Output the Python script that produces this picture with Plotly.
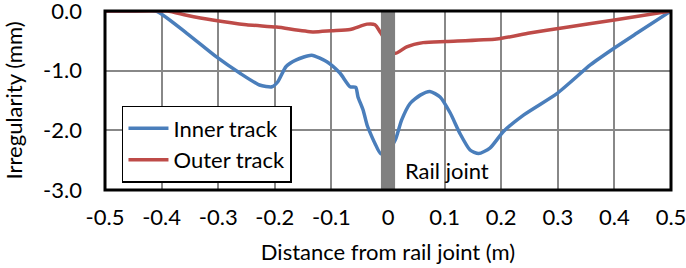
import plotly.graph_objects as go

inner_x = [-0.5, -0.45, -0.41, -0.356, -0.303, -0.262, -0.227, -0.205, -0.195, -0.18, -0.162, -0.135,
           -0.108, -0.085, -0.067, -0.057, -0.053, -0.044, -0.037, -0.032, -0.023, -0.013, 0.0,
           0.013, 0.024, 0.039, 0.057, 0.074, 0.092, 0.11, 0.127, 0.145, 0.16, 0.18, 0.204,
           0.24, 0.299, 0.358, 0.40, 0.44, 0.5]
inner_y = [0.0, 0.0, 0.0, -0.37, -0.77, -1.04, -1.24, -1.27, -1.19, -0.93, -0.82, -0.74,
           -0.85, -1.04, -1.27, -1.28, -1.44, -1.66, -1.91, -2.03, -2.22, -2.39, -2.35,
           -2.16, -1.83, -1.55, -1.41, -1.35, -1.44, -1.71, -2.05, -2.33, -2.39, -2.30, -2.02,
           -1.74, -1.38, -0.90, -0.62, -0.37, 0.0]

outer_x = [-0.5, -0.45, -0.39, -0.356, -0.31, -0.25, -0.197, -0.133, -0.1, -0.067, -0.037,
           -0.023, -0.014, 0.0, 0.013, 0.033, 0.062, 0.103, 0.192, 0.25, 0.31, 0.40, 0.5]
outer_y = [0.0, 0.0, 0.0, -0.07, -0.15, -0.23, -0.27, -0.35, -0.33, -0.31, -0.22,
           -0.23, -0.35, -0.55, -0.71, -0.60, -0.53, -0.51, -0.47, -0.37, -0.28, -0.15, 0.0]

x_ticks = [-0.5, -0.4, -0.3, -0.2, -0.1, 0, 0.1, 0.2, 0.3, 0.4, 0.5]
x_labels = ["-0.5", "-0.4", "-0.3", "-0.2", "-0.1", "0", "0.1", "0.2", "0.3", "0.4", "0.5"]
y_ticks = [0, -1, -2, -3]
y_labels = ["0.0", "-1.0", "-2.0", "-3.0"]

FONT = "Lato, 'Open Sans', sans-serif"
FS = 22

fig = go.Figure()
fig.add_trace(go.Scatter(x=inner_x, y=inner_y, mode="lines", name="Inner track",
                         line=dict(color="#4A7EBB", width=3.5, shape="spline", smoothing=0.6)))
fig.add_trace(go.Scatter(x=outer_x, y=outer_y, mode="lines", name="Outer track",
                         line=dict(color="#BE4B48", width=3.5, shape="spline", smoothing=0.6)))

# rail joint bar
fig.add_shape(type="rect", xref="x", yref="y", x0=-0.0125, x1=0.0125, y0=-3, y1=0,
              fillcolor="#808080", line=dict(width=0), layer="above")
# plot border
fig.add_shape(type="rect", xref="paper", yref="paper", x0=0, x1=1, y0=0, y1=1,
              line=dict(color="black", width=3), layer="above")

fig.add_annotation(x=0.027, y=-2.67, xref="x", yref="y", text="Rail joint", showarrow=False,
                   xanchor="left", yanchor="middle", font=dict(family=FONT, size=FS, color="black"))

fig.update_layout(
    width=686, height=268,
    margin=dict(l=105, r=15, t=11, b=78, autoexpand=False),
    paper_bgcolor="white", plot_bgcolor="white",
    font=dict(family=FONT, size=FS, color="black"),
    showlegend=True,
    legend=dict(x=0.03, y=0.47, xanchor="left", yanchor="top",
                bgcolor="white", bordercolor="black", borderwidth=1.5,
                font=dict(family=FONT, size=FS, color="black"),
                tracegroupgap=0, itemwidth=40),
    xaxis=dict(range=[-0.5, 0.5], tickvals=x_ticks, ticktext=x_labels, automargin=False,
               showgrid=True, gridcolor="#888888", gridwidth=1.5, zeroline=False,
               ticks="", showline=False, ticklabelstandoff=12, ticklabeloverflow="allow",
               title=dict(text="Distance from rail joint (m)", font=dict(family=FONT, size=FS), standoff=15),
               tickfont=dict(family=FONT, size=FS)),
    yaxis=dict(range=[-3, 0], tickvals=y_ticks, ticktext=y_labels, automargin=False,
               showgrid=True, gridcolor="#888888", gridwidth=1.5, zeroline=False,
               ticks="", showline=False, ticklabelstandoff=22, ticklabeloverflow="allow",
               title=dict(text="Irregularity (mm)", font=dict(family=FONT, size=FS), standoff=15),
               tickfont=dict(family=FONT, size=FS)),
)

fig.write_html("out.html", config={"displayModeBar": False},
               post_script="document.body.style.margin='0px';document.body.style.overflow='hidden';")
